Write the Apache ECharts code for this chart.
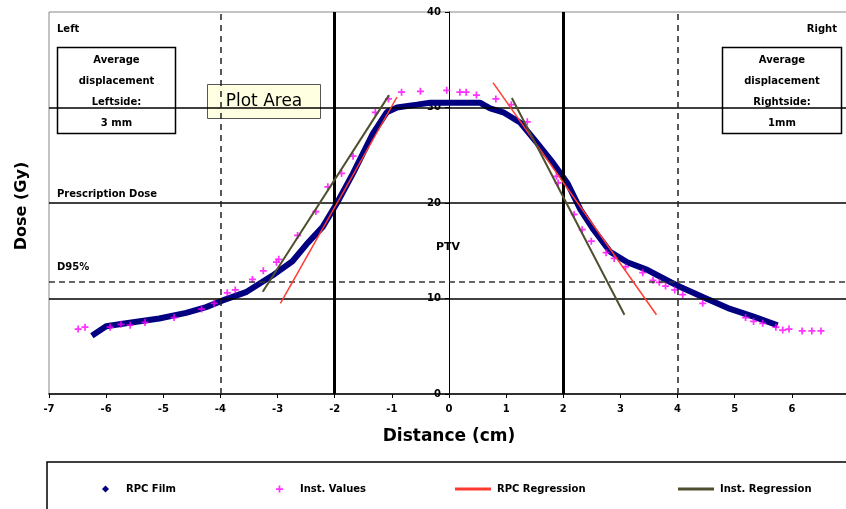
<!DOCTYPE html>
<html>
<head>
<meta charset="utf-8">
<script src="https://cdn.jsdelivr.net/npm/echarts@6/dist/echarts.min.js"></script>
<style>html,body{margin:0;padding:0;background:#fff}#c{width:846px;height:509px}</style>
</head>
<body>
<div id="c"></div>
<script>
// ---- data ----
const filmX = [-6.25,-6.0,-5.65,-5.07,-4.6,-4.25,-3.96,-3.54,-3.09,-2.74,-2.49,-2.21,-1.96,-1.68,-1.33,-1.09,-0.91,-0.56,-0.33,0.0,0.25,0.54,0.72,0.95,1.25,1.54,1.82,2.07,2.30,2.53,2.82,3.12,3.47,3.88,4.05,4.46,4.88,5.33,5.75];
const filmY = [6.1,7.1,7.4,7.9,8.5,9.1,9.8,10.7,12.4,13.9,15.7,17.5,20.0,23.1,27.3,29.5,30.0,30.3,30.5,30.5,30.5,30.5,29.9,29.5,28.4,26.3,24.2,22.1,19.3,17.2,14.9,13.8,13.0,11.7,11.2,10.1,9.0,8.1,7.2];
const instX = [-6.49,-6.37,-5.93,-5.74,-5.58,-5.32,-4.81,-4.33,-4.11,-3.88,-3.74,-3.44,-3.25,-3.02,-2.98,-2.65,-2.33,-2.12,-1.88,-1.68,-1.29,-1.06,-0.83,-0.5,-0.04,0.19,0.30,0.48,0.82,1.09,1.37,1.88,1.91,2.19,2.33,2.49,2.75,2.89,3.09,3.39,3.57,3.68,3.79,3.95,4.09,4.44,5.19,5.33,5.49,5.72,5.84,5.95,6.18,6.35,6.51];
const instY = [6.8,7.0,7.0,7.3,7.2,7.5,8.0,8.9,9.5,10.6,10.9,12.0,12.9,13.8,14.1,16.6,19.1,21.7,23.1,24.9,29.5,30.9,31.6,31.7,31.8,31.6,31.6,31.3,30.9,30.3,28.5,22.8,22.1,18.8,17.2,16.0,14.8,14.2,13.3,12.7,11.9,11.7,11.3,10.9,10.4,9.5,8.0,7.6,7.4,7.0,6.7,6.8,6.6,6.6,6.6];
const rpcRegLeftX = [-2.95,-0.91], rpcRegLeftY = [9.5,31.1];
const rpcRegRightX = [0.77,3.63], rpcRegRightY = [32.6,8.3];
const instRegLeftX = [-3.26,-1.05], instRegLeftY = [10.7,31.3];
const instRegRightX = [1.10,3.07], instRegRightY = [31.0,8.3];
const hSolid = [10,20,30];
const hDashed = [11.8];
const vThick = [-2,2];
const vDashed = [-4,4];
const xTicks = {min:-7, max:7, interval:1};
const yTicks = {min:0, max:40, interval:10};
// ---------------------------------------

const zip = (a,b) => a.map((v,i)=>[v,b[i]]);
const F = 'DejaVu Sans';
const plus = 'path://M3,0H5V3H8V5H5V8H3V5H0V3H3Z';
const navy = '#000080', mag = '#ff00ff', red = '#ff3b30', olive = '#4f4f2f';

const GL = 49, GW = 800;
const chart = echarts.init(document.getElementById('c'), null, {renderer:'canvas'});
const lbl = {fontFamily:F, fontWeight:'bold', fontSize:10, color:'#000'};

chart.setOption({
  animation:false,
  grid:{left:GL, width:GW, top:12, bottom:115, show:true, borderColor:'#888', borderWidth:1,
    outerBoundsMode:'none', containLabel:false},
  xAxis:{type:'value', min:xTicks.min, max:xTicks.max, interval:xTicks.interval,
    axisLine:{lineStyle:{color:'#000', width:1.5}},
    axisTick:{show:true, length:4, lineStyle:{color:'#000'}},
    axisLabel:Object.assign({margin:10}, lbl),
    splitLine:{show:false},
    name:'Distance (cm)', nameLocation:'middle', nameGap:34,
    nameTextStyle:{fontFamily:F, fontWeight:'bold', fontSize:17, color:'#000'}},
  yAxis:{type:'value', min:yTicks.min, max:yTicks.max, interval:yTicks.interval,
    position:'left', offset:-(GW * (0 - xTicks.min) / (xTicks.max - xTicks.min)),
    axisLine:{onZero:false, lineStyle:{color:'#000', width:1}},
    axisTick:{show:true, length:4, lineStyle:{color:'#000'}},
    axisLabel:Object.assign({margin:8}, lbl),
    splitLine:{show:false}},
  legend:[
    {data:[{name:'RPC Film', icon:'diamond'}], left:97, top:479, itemWidth:7, itemHeight:7,
      textStyle:Object.assign({padding:[0,0,0,12]}, lbl)},
    {data:[{name:'Inst. Values', icon:plus}], left:271, top:479, itemWidth:7, itemHeight:7,
      textStyle:Object.assign({padding:[0,0,0,12]}, lbl)},
    {data:[{name:'RPC Regression', icon:'rect'}], left:450, top:479, itemWidth:36, itemHeight:3,
      textStyle:Object.assign({padding:[0,0,0,1]}, lbl)},
    {data:[{name:'Inst. Regression', icon:'rect'}], left:673, top:479, itemWidth:36, itemHeight:3,
      textStyle:Object.assign({padding:[0,0,0,1]}, lbl)}
  ],
  series:[
    {type:'line', name:'refs', data:[], z:1, silent:true,
      markLine:{silent:true, symbol:['none','none'], label:{show:false}, animation:false,
        data:[].concat(
          hSolid.map(v=>({yAxis:v, lineStyle:{color:'#000', width:1.5, type:'solid'}})),
          hDashed.map(v=>({yAxis:v, lineStyle:{color:'#333', width:1.5, type:[6,4]}})),
          vThick.map(v=>({xAxis:v, lineStyle:{color:'#000', width:3, type:'solid'}})),
          vDashed.map(v=>({xAxis:v, lineStyle:{color:'#222', width:1.5, type:[6,5]}}))
        )}},
    {type:'line', name:'RPC Film', data:zip(filmX, filmY), showSymbol:false, z:3,
      lineStyle:{color:navy, width:6}, itemStyle:{color:navy}},
    {type:'scatter', name:'Inst. Values', data:zip(instX, instY), symbol:plus, symbolSize:7, z:4,
      itemStyle:{color:mag}},
    {type:'line', name:'RPC Regression', data:zip(rpcRegLeftX, rpcRegLeftY), showSymbol:false, z:5,
      lineStyle:{color:red, width:1.5}, itemStyle:{color:red}},
    {type:'line', name:'RPC Regression', data:zip(rpcRegRightX, rpcRegRightY), showSymbol:false, z:5,
      lineStyle:{color:red, width:1.5}, itemStyle:{color:red}},
    {type:'line', name:'Inst. Regression', data:zip(instRegLeftX, instRegLeftY), showSymbol:false, z:5,
      lineStyle:{color:olive, width:2}, itemStyle:{color:olive}},
    {type:'line', name:'Inst. Regression', data:zip(instRegRightX, instRegRightY), showSymbol:false, z:5,
      lineStyle:{color:olive, width:2}, itemStyle:{color:olive}}
  ],
  graphic:[
    {type:'text', left:57, top:24, style:Object.assign({text:'Left'}, lbl)},
    {type:'text', right:9, top:24, style:Object.assign({text:'Right'}, lbl)},
    {type:'text', left:57, top:189, style:Object.assign({text:'Prescription Dose'}, lbl)},
    {type:'text', left:57, top:262, style:Object.assign({text:'D95%'}, lbl)},
    {type:'text', x:448, y:247, style:Object.assign({text:'PTV', align:'center', verticalAlign:'middle',
      backgroundColor:'#fff', padding:[3,2]}, lbl, {fontSize:11})},
    {type:'rect', shape:{x:57.5, y:47.5, width:118, height:86}, style:{fill:'#fff', stroke:'#000', lineWidth:1.5}},
    {type:'text', x:116.5, y:92, style:Object.assign({text:'Average\ndisplacement\nLeftside:\n3 mm',
      align:'center', verticalAlign:'middle', lineHeight:21}, lbl)},
    {type:'rect', shape:{x:722.5, y:47.5, width:119, height:86}, style:{fill:'#fff', stroke:'#000', lineWidth:1.5}},
    {type:'text', x:782, y:92, style:Object.assign({text:'Average\ndisplacement\nRightside:\n1mm',
      align:'center', verticalAlign:'middle', lineHeight:21}, lbl)},
    {type:'rect', shape:{x:207.5, y:84.5, width:113, height:34}, style:{fill:'#ffffe1', stroke:'#555', lineWidth:1}},
    {type:'text', x:264, y:102, style:{text:'Plot Area', align:'center', verticalAlign:'middle',
      fontFamily:F, fontSize:17, fill:'#000'}},
    {type:'rect', shape:{x:47, y:462, width:830, height:70}, style:{fill:'none', stroke:'#000', lineWidth:1.5}},
    {type:'text', x:22, y:206, rotation:Math.PI/2, style:{text:'Dose (Gy)', align:'center', verticalAlign:'middle',
      fontFamily:F, fontWeight:'bold', fontSize:16, fill:'#000'}}
  ]
});
</script>
</body>
</html>
